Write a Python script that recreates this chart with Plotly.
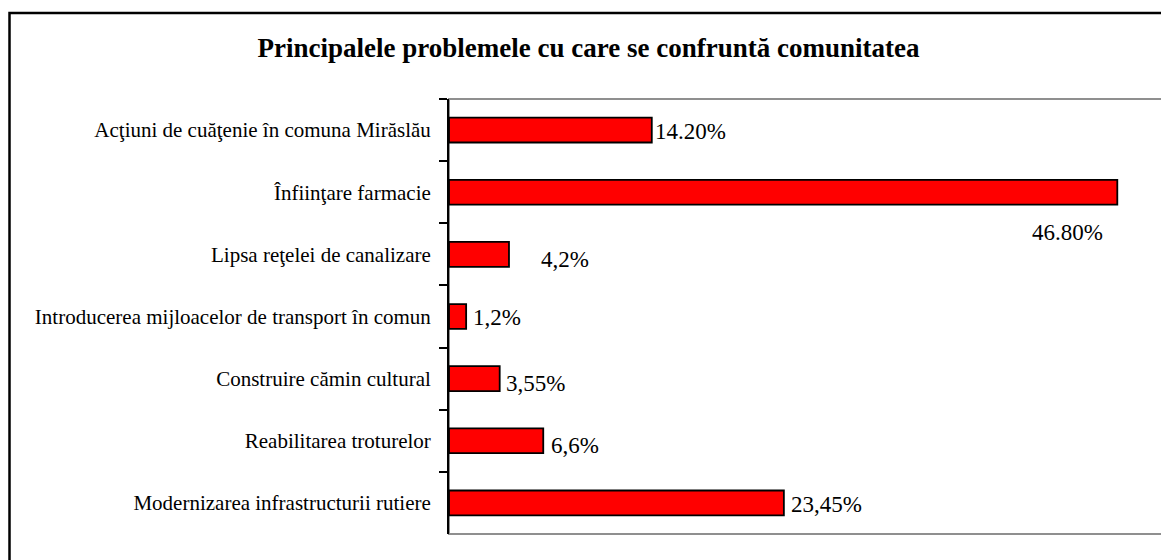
import plotly.graph_objects as go

categories = [
    "Acţiuni de cuăţenie în comuna Mirăslău",
    "Înfiinţare farmacie",
    "Lipsa reţelei de canalizare",
    "Introducerea mijloacelor de transport în comun",
    "Construire cămin cultural",
    "Reabilitarea troturelor",
    "Modernizarea infrastructurii rutiere",
]
values = [14.2, 46.8, 4.2, 1.2, 3.55, 6.6, 23.45]
value_labels = ["14.20%", "46.80%", "4,2%", "1,2%", "3,55%", "6,6%", "23,45%"]
title_text = "Principalele problemele cu care se confruntă comunitatea"

# label placement styling (pixel shifts relative to bar end)
label_anchor = ["left", "right", "left", "left", "left", "left", "left"]
label_dx = [1, -12, 30, 5, 4, 6, 5]
label_dy = [-1, -40, -5, -1, -5, -5, -2]

FONT = "Liberation Serif"

# the page body has an 8px margin; figure is sized/offset to compensate
OFF = 8
W, H = 1169 - OFF, 560 - OFF
pl, pr, pt, pb = 449 - OFF, 6, 99 - OFF, 26
pw, ph = W - pl - pr, H - pt - pb


def px_x(px):
    return (px - OFF - pl) / pw


def px_y(py):
    return (H - pb - (py - OFF)) / ph


fig = go.Figure()
fig.add_trace(go.Bar(
    x=values,
    y=categories,
    orientation="h",
    width=0.4,
    marker=dict(color="#FF0000", line=dict(color="#000000", width=1.8)),
    hoverinfo="skip",
))

annotations = []
for v, c, t, a, dx, dy in zip(values, categories, value_labels, label_anchor, label_dx, label_dy):
    annotations.append(dict(
        x=v, y=c, xref="x", yref="y", text=t, showarrow=False,
        xanchor=a, yanchor="middle", xshift=dx, yshift=dy,
        font=dict(family=FONT, size=23, color="#000000"),
    ))

shapes = [
    # outer chart border (runs past the right/bottom edges of the picture)
    dict(type="rect", xref="paper", yref="paper",
         x0=px_x(9.5), x1=px_x(1190), y0=px_y(580), y1=px_y(13),
         line=dict(color="#000000", width=2.5), fillcolor="rgba(0,0,0,0)", layer="below"),
    # plot-area frame
    dict(type="rect", xref="paper", yref="paper",
         x0=0, x1=1, y0=0, y1=1,
         line=dict(color="#8f8f8f", width=2), fillcolor="rgba(0,0,0,0)", layer="below"),
]

fig.update_layout(
    width=W, height=H,
    margin=dict(l=pl, r=pr, t=pt, b=pb, autoexpand=False),
    paper_bgcolor="#FFFFFF",
    plot_bgcolor="#FFFFFF",
    showlegend=False,
    font=dict(family=FONT, color="#000000"),
    title=dict(text="<b>" + title_text + "</b>", x=0.5, xref="container", xanchor="center",
               y=1 - (48 - OFF) / H, yref="container", yanchor="middle",
               font=dict(family=FONT, size=27, color="#000000")),
    xaxis=dict(range=[0, 50], showgrid=False, zeroline=False, showticklabels=False,
               ticks="", showline=False, fixedrange=True),
    yaxis=dict(autorange="reversed", showgrid=False, zeroline=False,
               showline=True, linecolor="#000000", linewidth=2,
               ticks="outside", ticklen=8, tickwidth=1.5, tickcolor="#000000",
               tickson="boundaries", ticklabelstandoff=12,
               tickfont=dict(family=FONT, size=21, color="#000000"), automargin=False),
    annotations=annotations,
    shapes=shapes,
)

fig.write_html("out.html")
